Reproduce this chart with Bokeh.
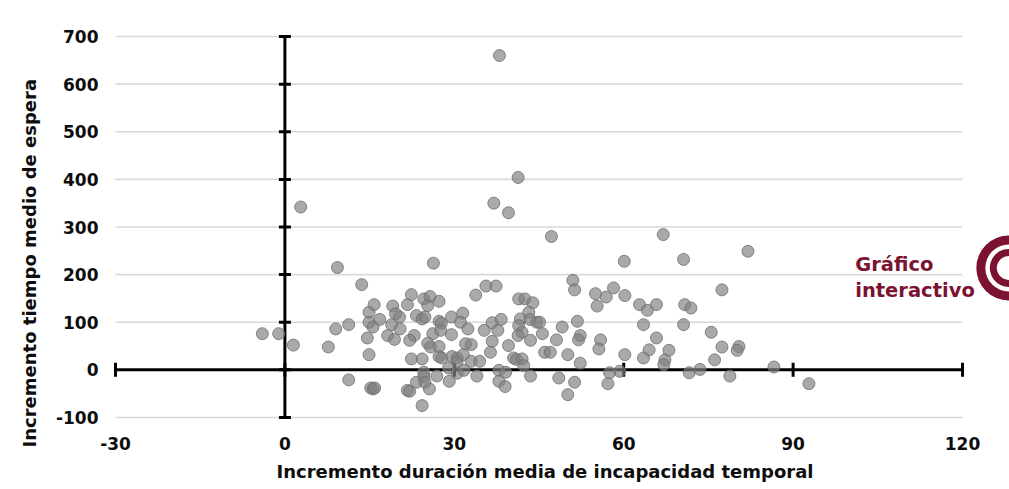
import numpy as np
from bokeh.plotting import figure
from bokeh.models import Range1d, FixedTicker, Label, PrintfTickFormatter, Title
from bokeh.embed import file_html
from bokeh.resources import INLINE

# ---------------- data ----------------
x_vals = [
    -4.0, -1.1, 1.5, 2.8, 7.7, 9.0, 9.3, 11.3, 11.3, 13.6,
    14.6, 14.9, 14.9, 14.9, 15.2, 15.6, 15.9, 15.6, 15.8, 16.8,
    18.2, 18.9, 19.1, 19.4, 19.6, 20.3, 20.4, 21.7, 22.4, 23.3,
    22.9, 22.1, 24.3, 24.8, 24.6, 25.7, 25.3, 27.3, 27.3, 27.7,
    29.5, 31.5, 31.1, 32.4, 26.2, 27.6, 29.5, 25.3, 25.8, 27.3,
    32.0, 33.0, 35.3, 36.7, 38.3, 37.7, 36.7, 36.4, 39.6, 41.4,
    42.5, 43.9, 43.2, 41.7, 43.4, 44.6, 45.1, 41.4, 42.0, 41.3,
    45.6, 43.5, 46.0, 40.5, 41.0, 42.0, 42.3, 37.9, 39.1, 37.9,
    39.0, 43.5, 22.4, 24.3, 24.6, 24.6, 23.3, 24.8, 25.6, 21.7,
    22.1, 24.3, 27.3, 27.8, 29.0, 26.9, 29.1, 29.6, 30.5, 30.5,
    31.6, 30.5, 31.7, 33.0, 34.5, 34.0, 26.3, 33.8, 35.6, 37.4,
    37.0, 39.6, 41.3, 38.0, 47.2, 67.0, 82.0, 60.1, 70.6, 51.0,
    51.3, 55.0, 56.9, 58.2, 55.3, 60.2, 62.8, 64.2, 65.8, 70.8,
    71.9, 49.1, 51.8, 52.3, 52.0, 48.1, 55.9, 55.6, 63.5, 70.6,
    65.8, 64.5, 63.5, 68.0, 67.3, 67.1, 60.2, 47.0, 50.1, 52.3,
    57.5, 59.3, 57.2, 48.5, 51.3, 50.1, 71.6, 73.5, 77.4, 75.5,
    77.4, 80.4, 80.1, 76.1, 78.8, 86.6, 92.8,
]
y_vals = [
    76, 76, 52, 342, 48, 86, 215, 95, -21, 179,
    67, 121, 100, 32, -38, -40, -38, 90, 137, 106,
    72, 95, 134, 64, 118, 111, 86, 137, 158, 114,
    72, 62, 107, 111, 149, 154, 135, 144, 102, 98,
    111, 119, 100, 86, 76, 83, 74, 56, 48, 49,
    55, 53, 83, 99, 106, 83, 60, 37, 51, 149,
    149, 141, 121, 107, 106, 100, 100, 93, 79, 72,
    76, 62, 37, 25, 22, 23, 9, -1, -5, -24,
    -35, -13, 23, 23, -5, -15, -26, -26, -40, -43,
    -45, -75, 28, 25, 4, -13, -24, 28, 25, 18,
    32, -7, -1, 18, 18, -13, 224, 157, 176, 176,
    350, 330, 404, 660, 280, 284, 249, 228, 232, 188,
    168, 160, 153, 172, 134, 156, 137, 125, 137, 137,
    130, 90, 102, 72, 63, 63, 63, 44, 95, 95,
    67, 42, 25, 41, 21, 11, 32, 37, 32, 14,
    -6, -3, -29, -17, -26, -52, -6, 1, 168, 79,
    48, 49, 41, 21, -13, 6, -29,
]

x_ticks = [-30, 0, 30, 60, 90, 120]
y_ticks = [-100, 0, 100, 200, 300, 400, 500, 600, 700]

x_title = "Incremento duración media de incapacidad temporal"
y_title = "Incremento tiempo medio de espera"
logo_lines = ["Gráfico", "interactivo"]

# ---------------- styles ----------------
FONT = "DejaVu Sans"
LOGO_COLOR = "#7b1230"
GRID_COLOR = "#d9d9d9"
POINT_COLOR = "#808080"
TEXT_COLOR = "#0d0d0d"

X_START, X_END = -30.53, 128.32
p = figure(
    width=1009, height=489,
    output_backend="svg", toolbar_location=None,
    x_range=Range1d(X_START, X_END),
    y_range=Range1d(-106.3, 706.3),
    min_border_left=112, min_border_right=0,
    min_border_top=33, min_border_bottom=69,
)
p.outline_line_color = None
p.background_fill_color = "white"
p.border_fill_color = "white"
p.xgrid.visible = False
p.ygrid.visible = False

# axes (tick labels only; the crossing axis lines are drawn in the data area)
for ax, ticks in ((p.xaxis[0], x_ticks), (p.yaxis[0], y_ticks)):
    ax.ticker = FixedTicker(ticks=ticks)
    ax.formatter = PrintfTickFormatter(format="%d")
    ax.axis_line_color = None
    ax.major_tick_line_color = None
    ax.minor_tick_line_color = None
    ax.major_tick_out = 0
    ax.major_tick_in = 0
    ax.major_label_text_font = FONT
    ax.major_label_text_font_style = "bold"
    ax.major_label_text_font_size = "17px"
    ax.major_label_text_color = TEXT_COLOR

p.xaxis.major_label_standoff = 16
p.yaxis.major_label_standoff = 14

# axis titles, placed in the side panels with a pixel offset (as in the original)
p.add_layout(Title(text=x_title, align="left", offset=164, standoff=12,
                   text_font=FONT, text_font_size="18px", text_font_style="bold",
                   text_color=TEXT_COLOR), "below")
p.add_layout(Title(text=y_title, align="left", offset=-27, standoff=25,
                   text_font=FONT, text_font_size="18px", text_font_style="bold",
                   text_color=TEXT_COLOR), "left")

# horizontal gridlines, spanning the x tick extent
gx0 = [x_ticks[0]] * len(y_ticks)
gx1 = [x_ticks[-1]] * len(y_ticks)
p.segment(x0=gx0, y0=y_ticks, x1=gx1, y1=y_ticks, line_color=GRID_COLOR, line_width=1.6)

# crossing axis lines
p.segment(x0=[x_ticks[0]], y0=[0], x1=[x_ticks[-1]], y1=[0], line_color="black", line_width=3)
p.segment(x0=[0], y0=[y_ticks[0]], x1=[0], y1=[y_ticks[-1]], line_color="black", line_width=3)
p.scatter(x=x_ticks, y=[0] * len(x_ticks), marker="dash", angle=np.pi / 2, size=14,
          line_color="black", line_width=3)
p.scatter(x=[0] * len(y_ticks), y=y_ticks, marker="dash", size=12,
          line_color="black", line_width=3)

# points
p.scatter(x=x_vals, y=y_vals, size=12, marker="circle",
          fill_color=POINT_COLOR, fill_alpha=0.68,
          line_color="#6e6e6e", line_alpha=0.8, line_width=1)

# "Gráfico interactivo" badge
p.add_layout(Label(x=101.0, y=221.5, text=logo_lines[0], text_font=FONT,
                   text_font_size="19.5px", text_font_style="bold",
                   text_color=LOGO_COLOR, text_baseline="alphabetic"))
p.add_layout(Label(x=101.0, y=167.0, text=logo_lines[1], text_font=FONT,
                   text_font_size="19.5px", text_font_style="bold",
                   text_color=LOGO_COLOR, text_baseline="alphabetic"))
icon_x, icon_y = 128.2, 214.0
p.annulus(x=[icon_x], y=[icon_y], inner_radius=23.5, outer_radius=32.5,
          inner_radius_units="screen", outer_radius_units="screen",
          fill_color=LOGO_COLOR, line_color=None)
p.annular_wedge(x=[icon_x], y=[icon_y], inner_radius=12, outer_radius=19,
                start_angle=np.deg2rad(80), end_angle=np.deg2rad(300),
                inner_radius_units="screen", outer_radius_units="screen",
                fill_color=LOGO_COLOR, line_color=None)

open("out.html", "w").write(file_html(p, INLINE))
